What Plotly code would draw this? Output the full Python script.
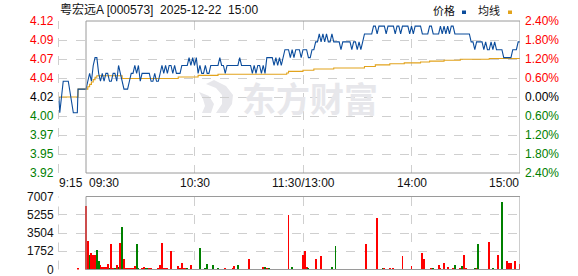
import plotly.graph_objects as go

# ---------------- data ----------------
stock_title = "粤宏远A [000573]  2025-12-22  15:00"
pre_close = 4.02
pct_steps = [-2.4, -1.8, -1.2, -0.6, 0.0, 0.6, 1.2, 1.8, 2.4]
price_labels = ["3.92", "3.95", "3.97", "4.00", "4.02", "4.04", "4.07", "4.09", "4.12"]
pct_labels = ["2.40%", "1.80%", "1.20%", "0.60%", "0.00%", "0.60%", "1.20%", "1.80%", "2.40%"]
vol_ticks = [0, 1752, 3504, 5255, 7007]
vol_labels = ["0", "1752", "3504", "5255", "7007"]
time_labels = ["9:15", "09:30", "10:30", "11:30/13:00", "14:00", "15:00"]
time_pos = [-15, 0, 60, 120, 180, 240]

# pre-market (call auction) price, minutes relative to 09:30
pre_times = [-15, -14.5, -12.6, -9.8, -7.0, -4.8, -4.4]
pre_prices = [4.02, 4.00, 4.04, 4.04, 4.00, 4.00, 4.03]

# continuous session, one value per minute (0 = 09:30 ... 240 = 15:00)
main_prices = [
    4.03, 4.04, 4.05, 4.04, 4.06, 4.07, 4.07, 4.05, 4.04, 4.05,
    4.04, 4.05, 4.05, 4.04, 4.04, 4.05, 4.05, 4.04, 4.06, 4.05,
    4.04, 4.03, 4.03, 4.03, 4.04, 4.05, 4.05, 4.06, 4.05, 4.06,
    4.04, 4.05, 4.05, 4.05, 4.05, 4.05, 4.04, 4.04, 4.05, 4.04,
    4.04, 4.05, 4.06, 4.05, 4.06, 4.05, 4.06, 4.06, 4.05, 4.06,
    4.05, 4.05, 4.05, 4.06, 4.06, 4.06, 4.06, 4.07, 4.06, 4.07,
    4.06, 4.07, 4.05, 4.06, 4.05, 4.05, 4.06, 4.05, 4.05, 4.06,
    4.06, 4.06, 4.06, 4.06, 4.07, 4.06, 4.06, 4.05, 4.06, 4.06,
    4.06, 4.06, 4.06, 4.06, 4.06, 4.07, 4.06, 4.06, 4.06, 4.06,
    4.06, 4.06, 4.05, 4.06, 4.05, 4.06, 4.06, 4.05, 4.06, 4.05,
    4.07, 4.07, 4.07, 4.07, 4.06, 4.07, 4.06, 4.07, 4.06, 4.07,
    4.08, 4.08, 4.08, 4.07, 4.08, 4.07, 4.08, 4.08, 4.08, 4.07,
    4.08, 4.08, 4.08, 4.07, 4.07, 4.08, 4.08, 4.09, 4.09, 4.10,
    4.09, 4.10, 4.09, 4.10, 4.09, 4.09, 4.10, 4.09, 4.09, 4.09,
    4.09, 4.08, 4.09, 4.09, 4.09, 4.09, 4.09, 4.08, 4.09, 4.09,
    4.08, 4.09, 4.08, 4.09, 4.10, 4.10, 4.10, 4.10, 4.10, 4.11,
    4.11, 4.10, 4.11, 4.11, 4.11, 4.11, 4.10, 4.11, 4.11, 4.11,
    4.11, 4.10, 4.11, 4.11, 4.10, 4.11, 4.11, 4.11, 4.11, 4.10,
    4.11, 4.10, 4.11, 4.11, 4.11, 4.11, 4.10, 4.10, 4.10, 4.10,
    4.11, 4.11, 4.10, 4.10, 4.10, 4.10, 4.11, 4.10, 4.11, 4.10,
    4.11, 4.10, 4.11, 4.11, 4.10, 4.10, 4.10, 4.10, 4.10, 4.10,
    4.10, 4.10, 4.10, 4.09, 4.09, 4.08, 4.09, 4.09, 4.09, 4.09,
    4.08, 4.09, 4.08, 4.08, 4.09, 4.08, 4.09, 4.08, 4.08, 4.08,
    4.08, 4.07, 4.07, 4.07, 4.07, 4.07, 4.08, 4.08, 4.08, 4.09,
    4.09,
]

# average price line (step points)
avg_times = [-15, -4.8, -4.4, 0, 1, 2, 3, 4, 5, 6, 19, 20, 51, 62, 73, 111, 112,
             120, 126, 137, 154, 160, 168, 176, 185, 190, 198, 207, 223, 240]
avg_values = [4.020, 4.020, 4.030, 4.030, 4.033, 4.036, 4.039, 4.042, 4.045, 4.047,
              4.047, 4.0435, 4.0454, 4.0475, 4.0488, 4.0505, 4.0525,
              4.0540, 4.0555, 4.0568, 4.0588, 4.0608, 4.0623, 4.0633, 4.0645,
              4.0655, 4.0667, 4.0679, 4.0688, 4.0690]

# volume: pre-market bar then one bar per minute
pre_vol_times = [-4.4]
pre_vols = [200]
pre_dirs = ["r"]
main_vols = [
    6160, 2760, 1400, 1590, 1460, 1400, 1950, 910, 490, 330,
    260, 330, 580, 100, 2470, 230, 100, 490, 290, 2560,
    4090, 1070, 130, 130, 100, 200, 230, 390, 2470, 195,
    65, 100, 260, 100, 130, 160, 160, 65, 65, 65,
    100, 520, 2560, 160, 160, 130, 65, 1850, 65, 65,
    65, 390, 160, 710, 130, 130, 100, 65, 520, 65,
    65, 65, 65, 2080, 65, 65, 100, 620, 65, 65,
    450, 65, 65, 130, 65, 65, 65, 160, 65, 65,
    65, 200, 420, 65, 450, 65, 65, 65, 65, 65,
    1100, 65, 65, 65, 65, 65, 65, 65, 330, 260,
    100, 100, 65, 65, 65, 65, 65, 65, 65, 65,
    65, 65, 5320, 65, 290, 65, 65, 65, 65, 65,
    1400, 1820, 260, 130, 65, 65, 65, 1040, 65, 65,
    1300, 65, 65, 65, 65, 65, 330, 65, 2270, 65,
    65, 65, 65, 65, 65, 65, 65, 65, 65, 65,
    65, 65, 65, 65, 65, 2470, 65, 65, 65, 65,
    65, 5000, 65, 65, 230, 100, 65, 65, 230, 65,
    160, 65, 65, 65, 65, 1300, 65, 65, 65, 65,
    420, 65, 65, 65, 65, 65, 1620, 1040, 65, 65,
    65, 230, 160, 65, 65, 520, 100, 65, 710, 65,
    330, 65, 65, 230, 490, 65, 65, 130, 420, 1430,
    130, 65, 65, 65, 65, 230, 130, 2470, 65, 65,
    65, 65, 65, 2660, 65, 160, 65, 65, 1400, 65,
    6550, 65, 65, 910, 710, 710, 65, 910, 65, 65,
    580,
]
main_dirs = list(
    "rrgrrrggrr" "rrrgrrgrgr" "grrrrrrrgg" "rrrggrrgrr" "rrrrrrrrgg"
    "grrrrrgrrg" "ggggggggrr" "grrgrrrrgr" "grrggrrrrr" "rrrrrrrrrg"
    "rgrggrrrrr" "rrrrgrrrrr" "rrrggrrrrr" "rrrrrrgrgr" "rrrrrrrrrr"
    "rrrrrrrrrr" "rrrrgrrrrr" "rrgrgrrrgr" "rggrgrrrrr" "rrgrrrrrrr"
    "rrrrgrrrgr" "rrrrrgrgrr" "rgrrrgrrrg" "grrrrrrrrr" "r"
)

# ---------------- figure ----------------
W, H = 578, 276
grid = "#cfcfcf"
border = "#9a9a9a"
red, green, black = "#ff0000", "#008000", "#000000"
price_color = "#0b4c9c"
avg_color = "#e2a31c"
wm_color = "#e7e7eb"
font_latin = "Liberation Sans, Arial, Noto Sans CJK SC, sans-serif"

def fx(p):
    return p / W

def fy(p):
    return 1 - p / H

price_ticks = [pre_close * (1 + s / 100) for s in pct_steps]
y_lo, y_hi = pre_close * 0.976, pre_close * 1.024
pad = 1e-6

x_lo = -28 / (434 / 240)  # keep 09:30 aligned with the box edge

fig = go.Figure()

fig.add_trace(go.Scatter(
    x=avg_times, y=avg_values, mode="lines",
    line=dict(color=avg_color, width=1.1, shape="hv"),
    hoverinfo="skip", xaxis="x", yaxis="y"))

fig.add_trace(go.Scatter(
    x=pre_times + list(range(len(main_prices))), y=pre_prices + main_prices,
    mode="lines", line=dict(color=price_color, width=1.1),
    hoverinfo="skip", xaxis="x", yaxis="y"))

colors = [red if d == "r" else green for d in pre_dirs + main_dirs]
fig.add_trace(go.Bar(
    x=pre_vol_times + list(range(len(main_vols))), y=pre_vols + main_vols,
    marker=dict(color=colors, line=dict(width=0)), width=0.5,
    hoverinfo="skip", xaxis="x2", yaxis="y2"))

axis_common = dict(showticklabels=False, ticks="", zeroline=False, showline=False,
                   showgrid=True, gridcolor=grid, griddash="dash", gridwidth=1)

fig.update_layout(
    width=W, height=H, margin=dict(l=0, r=0, t=0, b=0),
    paper_bgcolor="white", plot_bgcolor="rgba(0,0,0,0)",
    showlegend=False, bargap=0,
    xaxis=dict(domain=[fx(58), fx(520)], range=[x_lo, 240], tickvals=[60, 120, 180],
               anchor="y", **axis_common),
    xaxis2=dict(domain=[fx(58), fx(520)], range=[x_lo, 240], tickvals=[60, 120, 180],
                anchor="y2", matches="x", **axis_common),
    yaxis=dict(domain=[fy(173), fy(21)], range=[y_lo - pad, y_hi + pad],
               tickvals=price_ticks, anchor="x", **axis_common),
    yaxis2=dict(domain=[fy(269.5), fy(196.5)], range=[0, 7007 * 1.0001],
                tickvals=vol_ticks, anchor="x2", **axis_common),
)

def path_px(pts):
    s = "M %f %f" % (fx(pts[0][0]), fy(pts[0][1]))
    for p in pts[1:]:
        s += " L %f %f" % (fx(p[0]), fy(p[1]))
    return s + " Z"

shapes = []
# faint watermark logo (left of the text)
shapes.append(dict(type="path", xref="paper", yref="paper", layer="below",
                   path=path_px([(214, 80), (226, 86), (233, 95), (232, 104), (226, 113),
                                 (216, 113), (222, 104), (222, 95), (216, 88), (206, 84)]),
                   fillcolor=wm_color, line=dict(width=0)))
shapes.append(dict(type="path", xref="paper", yref="paper", layer="below",
                   path=path_px([(199, 92), (209, 96), (214, 104), (211, 113),
                                 (202, 113), (205, 106), (203, 99)]),
                   fillcolor=wm_color, line=dict(width=0)))
# dashed left edge lines in pre-market area
for (a, b) in [(21, 173), (196.5, 269.5)]:
    shapes.append(dict(type="line", xref="paper", yref="paper",
                       x0=fx(58.5), x1=fx(58.5), y0=fy(b), y1=fy(a),
                       line=dict(color=grid, width=1, dash="dash")))
# solid boxes for the trading session
shapes.append(dict(type="rect", xref="x", yref="y domain", x0=0, x1=240, y0=0, y1=1,
                   line=dict(color=border, width=1), layer="above"))
shapes.append(dict(type="rect", xref="x2", yref="y2 domain", x0=0, x1=240, y0=0, y1=1,
                   line=dict(color=border, width=1), layer="above"))
# legend swatches
shapes.append(dict(type="rect", xref="paper", yref="paper", x0=fx(462), x1=fx(466),
                   y0=fy(14), y1=fy(10.5), fillcolor=price_color, line=dict(width=0)))
shapes.append(dict(type="rect", xref="paper", yref="paper", x0=fx(508), x1=fx(512),
                   y0=fy(14), y1=fy(10.5), fillcolor=avg_color, line=dict(width=0)))
fig.update_layout(shapes=shapes)

ann = []
def sign_color(s):
    return red if s > 0 else (green if s < 0 else black)

for s, v, lab in zip(pct_steps, price_ticks, price_labels):
    ann.append(dict(x=fx(56), xref="paper", xanchor="right", y=v, yref="y",
                    yanchor="middle", text=lab, showarrow=False,
                    font=dict(family=font_latin, size=12, color=sign_color(s))))
for s, v, lab in zip(pct_steps, price_ticks, pct_labels):
    ann.append(dict(x=fx(523), xref="paper", xanchor="left", y=v, yref="y",
                    yanchor="middle", text=lab, showarrow=False,
                    font=dict(family=font_latin, size=12, color=sign_color(s))))
for v, lab in zip(vol_ticks, vol_labels):
    ann.append(dict(x=fx(56), xref="paper", xanchor="right", y=v, yref="y2",
                    yanchor="middle", text=lab, showarrow=False,
                    font=dict(family=font_latin, size=12, color="#111111")))
anchors = ["left", "left", "center", "center", "center", "right"]
shifts = [-2, 1, 0, 0, 0, 1]
for t, lab, a, sh in zip(time_pos, time_labels, anchors, shifts):
    ann.append(dict(x=t, xref="x", xanchor=a, xshift=sh, y=fy(182.5), yref="paper",
                    yanchor="middle", text=lab, showarrow=False,
                    font=dict(family=font_latin, size=12, color="#111111")))
ann.append(dict(x=fx(58), xref="paper", xanchor="left", y=fy(9), yref="paper",
                yanchor="middle", text=stock_title, showarrow=False,
                font=dict(family=font_latin, size=12, color="#111111")))
ann.append(dict(x=fx(431), xref="paper", xanchor="left", y=fy(10), yref="paper",
                yanchor="middle", text="价格", showarrow=False,
                font=dict(family="Noto Sans CJK SC", size=11, color="#111111")))
ann.append(dict(x=fx(476), xref="paper", xanchor="left", y=fy(10), yref="paper",
                yanchor="middle", text="均线", showarrow=False,
                font=dict(family="Noto Sans CJK SC", size=11, color="#111111")))
ann.append(dict(x=fx(240), xref="paper", xanchor="left", y=fy(97), yref="paper",
                yanchor="middle", text="<b>东方财富</b>", showarrow=False,
                font=dict(family="Noto Sans CJK SC", size=34, color=wm_color)))
fig.update_layout(annotations=ann)

fig.write_html("out.html")
